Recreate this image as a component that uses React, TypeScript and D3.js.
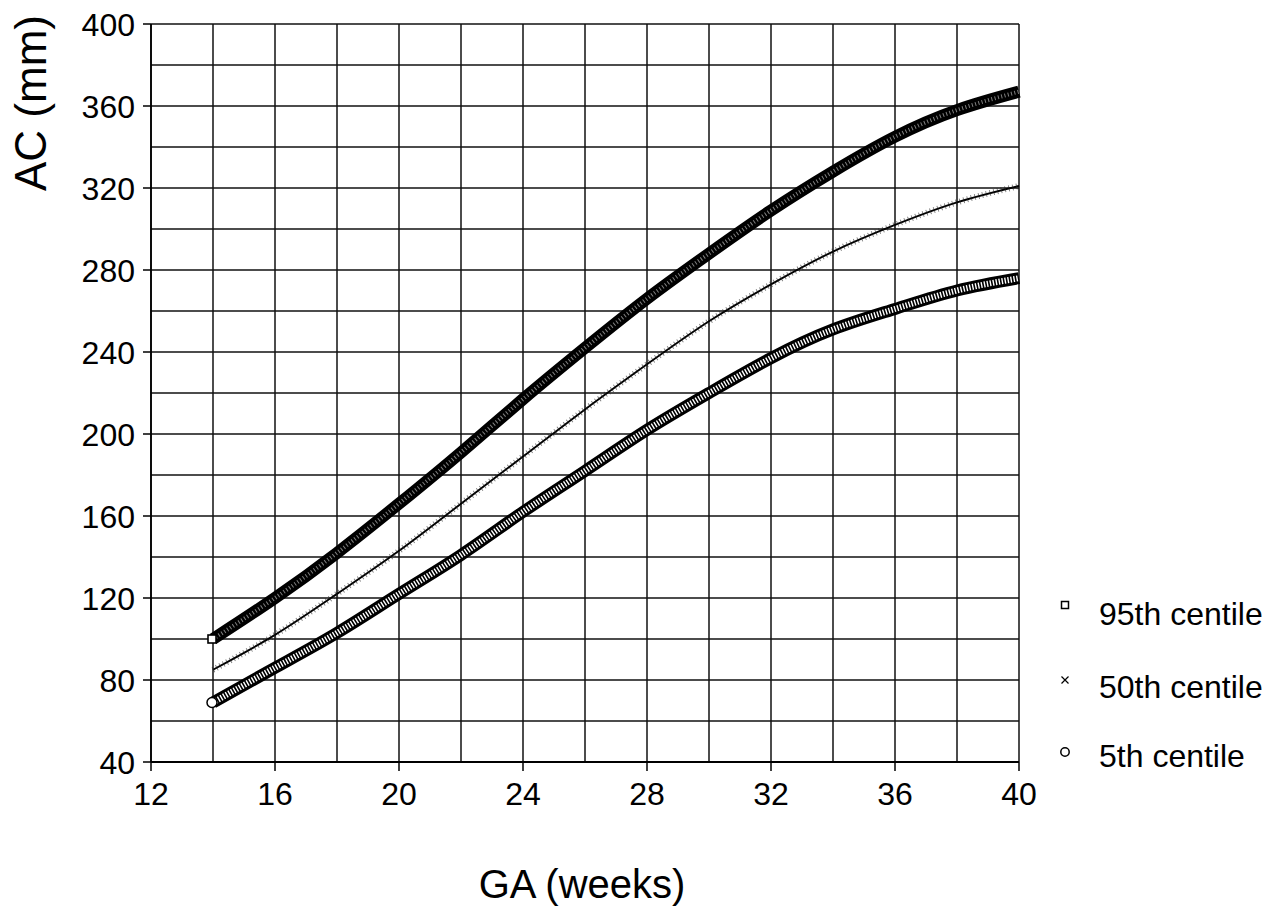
import React from 'react';
import * as d3 from 'd3';

// gestational age (weeks) and AC centiles (mm)
const weeks = [14, 16, 18, 20, 22, 24, 26, 28, 30, 32, 34, 36, 38, 40];
const p95 = [100, 120, 142, 166, 191, 217, 242, 266, 288, 309, 328, 345, 358, 367];
const p50 = [85, 102, 122, 143, 166, 189, 212, 234, 255, 273, 289, 302, 313, 321];
const p5 = [69, 86, 103, 122, 141, 162, 182, 202, 220, 237, 251, 261, 270, 276];

const xTicks = [12, 16, 20, 24, 28, 32, 36, 40];
const yTicks = [40, 80, 120, 160, 200, 240, 280, 320, 360, 400];
const xGrid = [14, 16, 18, 20, 22, 24, 26, 28, 30, 32, 34, 36, 38, 40];
const yGrid = [60, 80, 100, 120, 140, 160, 180, 200, 220, 240, 260, 280, 300, 320, 340, 360, 380, 400];
const legendLabels = ['95th centile', '50th centile', '5th centile'];

const FONT = '"Liberation Sans", Arial, Helvetica, sans-serif';

const App = () => {
  const x = d3.scaleLinear().domain([12, 40]).range([151, 1019]);
  const y = d3.scaleLinear().domain([40, 400]).range([762, 24]);

  const line = (vals: number[]) =>
    d3.line<number>()
      .x((_, i) => x(weeks[i]))
      .y(d => y(d))
      .curve(d3.curveNatural)(vals) || '';

  const sq = 8;

  return (
    <svg width={1275} height={908} style={{ position: 'absolute', left: 0, top: 0, background: '#fff' }}
      fontFamily={FONT}>
      {/* grid */}
      {xGrid.map(g => (
        <line key={'vx' + g} x1={x(g)} x2={x(g)} y1={y(40)} y2={y(400)} stroke="#111" strokeWidth={1.5} />
      ))}
      {yGrid.map(g => (
        <line key={'hy' + g} x1={x(12)} x2={x(40)} y1={y(g)} y2={y(g)} stroke="#111" strokeWidth={1.4} />
      ))}

      {/* axes */}
      <line x1={x(12)} x2={x(12)} y1={y(40)} y2={y(400)} stroke="#000" strokeWidth={1.9} />
      <line x1={x(12)} x2={x(40)} y1={y(40)} y2={y(40)} stroke="#000" strokeWidth={1.9} />
      {yTicks.map(t => (
        <g key={'yt' + t}>
          <line x1={x(12) - 8} x2={x(12)} y1={y(t)} y2={y(t)} stroke="#000" strokeWidth={1.5} />
          <text x={135} y={y(t)} dy="0.36em" textAnchor="end" fontSize={32} fill="#000">{t}</text>
        </g>
      ))}
      {xTicks.map(t => (
        <g key={'xt' + t}>
          <line x1={x(t)} x2={x(t)} y1={y(40)} y2={y(40) + 9} stroke="#000" strokeWidth={1.5} />
          <text x={x(t)} y={805} textAnchor="middle" fontSize={32} fill="#000">{t}</text>
        </g>
      ))}

      {/* 95th centile: dense hollow squares */}
      <path d={line(p95)} fill="none" stroke="#000" strokeWidth={12} />
      <path d={line(p95)} fill="none" stroke="#fff" strokeWidth={4} strokeDasharray="1 2.4" opacity={0.5} />
      <rect x={x(weeks[0]) - sq / 2 - 1} y={y(p95[0]) - sq / 2} width={sq} height={sq} fill="#fff" stroke="#000" strokeWidth={1.6} />

      {/* 50th centile: small crosses */}
      <path d={line(p50)} fill="none" stroke="#000" strokeWidth={1.9} />
      <path d={line(p50)} fill="none" stroke="#222" strokeWidth={6} strokeDasharray="0.9 3" opacity={0.6} />

      {/* 5th centile: dense hollow circles */}
      <path d={line(p5)} fill="none" stroke="#000" strokeWidth={12} />
      <path d={line(p5)} fill="none" stroke="#fff" strokeWidth={6} strokeDasharray="1.4 1.6" />
      <circle cx={x(weeks[0]) - 1} cy={y(p5[0])} r={5} fill="#fff" stroke="#000" strokeWidth={1.5} />

      {/* legend */}
      <rect x={1065 - 3.5} y={605 - 3.5} width={7} height={7} fill="#fff" stroke="#000" strokeWidth={1.5} />
      <path d="M1061.5,676.5 L1068.5,683.5 M1068.5,676.5 L1061.5,683.5" stroke="#000" strokeWidth={1.2} />
      <circle cx={1065} cy={752} r={4.2} fill="#fff" stroke="#000" strokeWidth={1.5} />
      {legendLabels.map((l, i) => (
        <text key={l} x={1099} y={[625, 698, 767][i]} fontSize={32} fill="#000">{l}</text>
      ))}

      {/* axis titles */}
      <text x={582} y={898} textAnchor="middle" fontSize={40} fill="#000">GA (weeks)</text>
      <text transform="translate(46,103) rotate(-90)" textAnchor="middle" fontSize={44} fill="#000">AC (mm)</text>
    </svg>
  );
};

export default App;
